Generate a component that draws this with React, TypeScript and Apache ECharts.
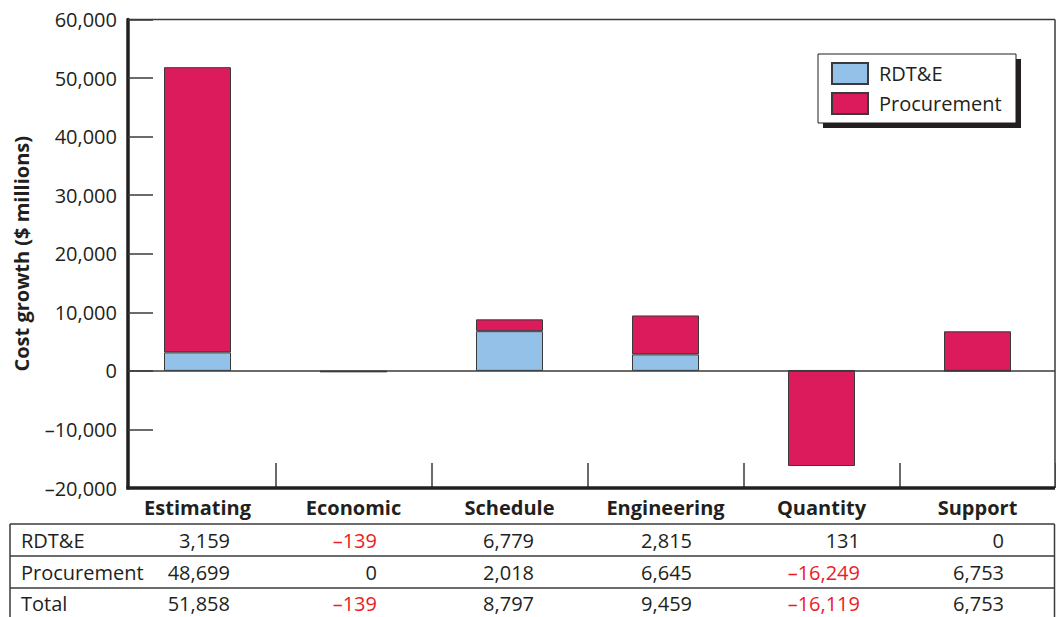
import React, { useEffect, useRef } from 'react';
import * as echarts from 'echarts';

// ---------- data ----------
const categories = ['Estimating', 'Economic', 'Schedule', 'Engineering', 'Quantity', 'Support'];
const seriesNames = ['RDT&E', 'Procurement'];
const rdte = [3159, -139, 6779, 2815, 131, 0];
const procurement = [48699, 0, 2018, 6645, -16249, 6753];
const total = [51858, -139, 8797, 9459, -16119, 6753];
const rowLabels = ['RDT&E', 'Procurement', 'Total'];
const yMin = -20000;
const yMax = 60000;
const yInterval = 10000;

// ---------- layout / style ----------
const W = 1056;
const H = 617;
const GRID_LEFT = 119.5;
const GRID_RIGHT = 0.5;
const GRID_TOP = 19.5;
const GRID_BOTTOM = 129;
const AXIS_X = 128;
const INK = '#231f20';
const LINE = '#3a3a3a';
const RED = '#ed1c24';
const BLUE = '#94c1e8';
const MAGENTA = '#db1b5b';
const FONT = '"Open Sans", "Noto Sans", sans-serif';
const FS = 20;
const COL_DX = [32.5, 23.5, 24.5, 26.5, 38.5, 26.5];
const TABLE_LINES_Y = [524, 556, 588];
const TABLE_ROW_MID = [540.5, 572, 603.5];
const TABLE_LEFT = 10;
const TABLE_RIGHT = 1054.5;
const LEGEND_BOX = { x: 818, y: 54, w: 198, h: 69 };

const fmt = (n: number) => (n < 0 ? '\u2013' : '') + Math.abs(n).toLocaleString('en-US');

export default function App() {
  const ref = useRef<HTMLDivElement>(null);

  useEffect(() => {
    if (!ref.current) return;
    const chart = echarts.init(ref.current, null, { renderer: 'svg' });

    const barStyle = (color: string) => ({ color, borderColor: LINE, borderWidth: 1 });

    chart.setOption({
      animation: false,
      grid: { left: GRID_LEFT, right: GRID_RIGHT, top: GRID_TOP, bottom: GRID_BOTTOM, containLabel: false },
      legend: {
        data: seriesNames,
        orient: 'vertical',
        left: LEGEND_BOX.x,
        top: LEGEND_BOX.y,
        padding: [8, 13, 11, 13],
        itemWidth: 36,
        itemHeight: 21,
        itemGap: 7,
        icon: 'rect',
        selectedMode: false,
        z: 10,
        textStyle: { fontFamily: FONT, fontSize: FS, color: INK, padding: [0, 0, 0, 6] },
      },
      xAxis: {
        type: 'category',
        data: categories,
        axisLine: { show: false, onZero: false },
        axisTick: {
          show: true,
          inside: true,
          length: 25,
          interval: (i: number) => i > 0,
          lineStyle: { color: LINE, width: 1.5 },
        },
        axisLabel: {
          interval: 0,
          fontFamily: FONT,
          fontSize: FS,
          fontWeight: 'bold',
          color: INK,
          margin: 9,
        },
        splitLine: { show: false },
      },
      yAxis: {
        type: 'value',
        min: yMin,
        max: yMax,
        interval: yInterval,
        offset: -(AXIS_X - GRID_LEFT),
        axisLine: { show: true, lineStyle: { color: INK, width: 3.5 } },
        axisTick: { show: true, inside: true, length: 25, lineStyle: { color: LINE, width: 1.5 } },
        axisLabel: { formatter: fmt, fontFamily: FONT, fontSize: FS, color: INK, margin: 11 },
        splitLine: { show: false },
        name: 'Cost growth ($ millions)',
        nameLocation: 'middle',
        nameRotate: 90,
        nameGap: 97,
        nameTextStyle: { fontFamily: FONT, fontSize: FS, fontWeight: 'bold', color: INK },
      },
      series: [
        { name: seriesNames[0], type: 'bar', stack: 'cost', data: rdte, barWidth: 67, itemStyle: barStyle(BLUE), z: 3 },
        { name: seriesNames[1], type: 'bar', stack: 'cost', data: procurement, barWidth: 67, itemStyle: barStyle(MAGENTA), z: 3 },
      ],
    });

    const yTop = chart.convertToPixel({ yAxisIndex: 0 }, yMax) as number;
    const yBot = chart.convertToPixel({ yAxisIndex: 0 }, yMin) as number;
    const yZero = chart.convertToPixel({ yAxisIndex: 0 }, 0) as number;
    const xRight = W - GRID_RIGHT - 0.5;
    const cx = categories.map((_, i) => chart.convertToPixel({ xAxisIndex: 0 }, i) as number);

    const line = (x1: number, y1: number, x2: number, y2: number, w: number, c = LINE) => ({
      type: 'line',
      silent: true,
      z: 1,
      shape: { x1, y1, x2, y2 },
      style: { stroke: c, lineWidth: w },
    });
    const text = (t: string, x: number, y: number, align: string, fill = INK) => ({
      type: 'text',
      silent: true,
      z: 2,
      x,
      y,
      style: { text: t, fill, font: `${FS}px ${FONT}`, align, verticalAlign: 'middle' },
    });

    const elements: any[] = [];
    // frame
    elements.push(line(AXIS_X, yTop, xRight, yTop, 1.5));
    elements.push(line(xRight, yTop, xRight, yBot, 1.5));
    elements.push(line(AXIS_X - 1.7, yBot, xRight, yBot, 3.5, INK));
    elements.push(line(AXIS_X, yZero, xRight, yZero, 1.5));
    // legend box with shadow
    elements.push({
      type: 'rect', silent: true, z: 1,
      shape: { x: LEGEND_BOX.x + 5, y: LEGEND_BOX.y + 5, width: LEGEND_BOX.w, height: LEGEND_BOX.h },
      style: { fill: INK },
    });
    elements.push({
      type: 'rect', silent: true, z: 2,
      shape: { x: LEGEND_BOX.x, y: LEGEND_BOX.y, width: LEGEND_BOX.w, height: LEGEND_BOX.h },
      style: { fill: '#ffffff', stroke: INK, lineWidth: 1 },
    });
    // table grid
    TABLE_LINES_Y.forEach((y) => elements.push(line(TABLE_LEFT, y, TABLE_RIGHT, y, 1.5)));
    elements.push(line(TABLE_LEFT, TABLE_LINES_Y[0], TABLE_LEFT, H + 5, 1.5));
    elements.push(line(TABLE_RIGHT, TABLE_LINES_Y[0], TABLE_RIGHT, H + 5, 1.5));
    // table texts
    const rows = [rdte, procurement, total];
    rows.forEach((vals, r) => {
      elements.push(text(rowLabels[r], 21, TABLE_ROW_MID[r], 'left'));
      vals.forEach((v, k) => {
        elements.push(text(fmt(v), cx[k] + COL_DX[k], TABLE_ROW_MID[r], 'right', v < 0 ? RED : INK));
      });
    });

    chart.setOption({ graphic: { elements } });

    return () => chart.dispose();
  }, []);

  return (
    <div
      ref={ref}
      style={{ position: 'absolute', left: 0, top: 0, width: W, height: H, background: '#ffffff' }}
    />
  );
}
